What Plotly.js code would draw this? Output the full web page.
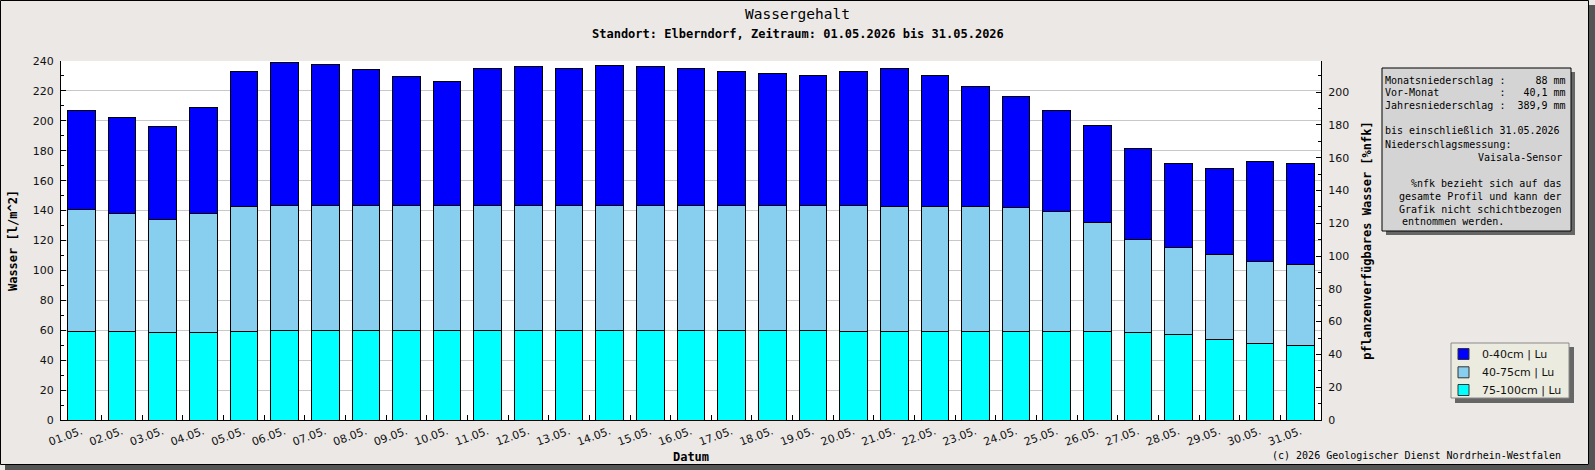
<!DOCTYPE html>
<html>
<head>
<meta charset="utf-8">
<script src="https://cdn.plot.ly/plotly-3.0.1.min.js"></script>
<style>html,body{margin:0;padding:0;background:#ebe8e6}</style>
</head>
<body>
<div id="wasserPlot" style="width:1595px;height:470px"></div>
<script>
// days of May 2026
var days = ['01.05.', '02.05.', '03.05.', '04.05.', '05.05.', '06.05.', '07.05.', '08.05.',
  '09.05.', '10.05.', '11.05.', '12.05.', '13.05.', '14.05.', '15.05.', '16.05.', '17.05.',
  '18.05.', '19.05.', '20.05.', '21.05.', '22.05.', '23.05.', '24.05.', '25.05.', '26.05.',
  '27.05.', '28.05.', '29.05.', '30.05.', '31.05.'];

// water per layer in l/m^2
var water75to100 = [59.2, 59.2, 58.6, 58.6, 59.2, 59.9, 59.9, 59.9, 59.9, 59.9, 59.9, 59.9,
  59.9, 59.9, 59.9, 59.9, 59.9, 59.9, 59.9, 59.3, 59.3, 59.3, 59.3, 59.3, 59.3, 59.3, 58.6,
  57.2, 53.9, 51.2, 49.9];
var water40to75 = [81.3, 78.6, 75.2, 79.2, 83.3, 83.3, 83.3, 83.5, 83.5, 83.5, 83.5, 83.5,
  83.5, 83.5, 83.5, 83.5, 83.5, 83.5, 83.5, 84.1, 83.5, 83.5, 83.5, 82.8, 80.0, 72.8, 62.1,
  58.2, 56.8, 54.8, 54.0];
var water0to40 = [66.4, 64.4, 62.4, 71.1, 90.4, 95.7, 94.4, 90.9, 86.2, 82.8, 91.5, 92.9,
  91.5, 93.5, 92.9, 91.5, 89.5, 88.2, 86.9, 89.5, 92.1, 87.5, 80.1, 74.1, 67.6, 64.8, 60.8,
  56.1, 57.4, 66.8, 67.6];

var layerNames = ['75-100cm | Lu', '40-75cm | Lu', '0-40cm | Lu'];
var layerColors = ['#00ffff', '#88ceee', '#0000ff'];

var infoLines = [
  'Monatsniederschlag :     88 mm',
  'Vor-Monat          :   40,1 mm',
  'Jahresniederschlag :  389,9 mm',
  'bis einschließlich 31.05.2026',
  'Niederschlagsmessung:'
];
var infoRight = ['Vaisala-Sensor', '%nfk bezieht sich auf das', 'gesamte Profil und kann der',
  'Grafik nicht schichtbezogen'];

// pixel -> paper helpers (plot area 61..1321 x 61..420)
function px(x) { return (x - 61) / 1260; }
function py(y) { return (420 - y) / 359; }
function nb(s) { return s.replace(/ /g, '\u00a0'); }

var layerValues = [water75to100, water40to75, water0to40];
var data = [];
for (var i = 0; i < 3; i++) {
  data.push({
    type: 'bar',
    x: days,
    y: layerValues[i],
    name: layerNames[i],
    marker: {color: layerColors[i], line: {color: '#000', width: 1}},
    hoverinfo: 'x+y+name'
  });
}
// empty trace so the right axis gets drawn
data.push({type: 'scatter', x: [], y: [], yaxis: 'y2', showlegend: false, hoverinfo: 'skip'});

var tickFont = {family: 'DejaVu Sans', size: 11, color: '#111'};
var titleFont = {family: 'DejaVu Sans Mono', size: 12, color: '#000', weight: 'bold'};
var mono = {family: 'DejaVu Sans Mono', size: 10, color: '#000'};

var annotations = [{
  xref: 'paper', yref: 'paper', x: px(798), y: py(34), xanchor: 'center', yanchor: 'middle',
  text: 'Standort: Elberndorf, Zeitraum: 01.05.2026 bis 31.05.2026', showarrow: false,
  font: titleFont
}, {
  xref: 'paper', yref: 'paper', x: px(1563), y: py(455), xanchor: 'right', yanchor: 'middle',
  text: '(c) 2026 Geologischer Dienst Nordrhein-Westfalen', showarrow: false, font: mono
}];
var leftY = [80, 92.7, 105, 130.7, 144];
for (var j = 0; j < infoLines.length; j++) {
  annotations.push({xref: 'paper', yref: 'paper', x: px(1383), y: py(leftY[j]), xanchor: 'left',
    yanchor: 'middle', text: nb(infoLines[j]), showarrow: false, font: mono});
}
var rightY = [157.3, 183.3, 196.7, 209.3];
for (var k = 0; k < infoRight.length; k++) {
  annotations.push({xref: 'paper', yref: 'paper', x: px(1564), y: py(rightY[k]), xanchor: 'right',
    yanchor: 'middle', text: infoRight[k], showarrow: false, font: mono});
}
annotations.push({xref: 'paper', yref: 'paper', x: px(1400), y: py(221.7), xanchor: 'left',
  yanchor: 'middle', text: 'entnommen werden.', showarrow: false, font: mono});

function rect(x0, y0, x1, y1, fill, line) {
  return {type: 'rect', xref: 'paper', yref: 'paper', x0: px(x0), x1: px(x1), y0: py(y0), y1: py(y1),
    fillcolor: fill, line: line ? {color: line, width: 1} : {width: 0}, layer: 'below'};
}
var shapes = [
  rect(1589, 5, 1595, 470, '#555', null),
  rect(5, 465, 1595, 470, '#555', null),
  rect(0.5, 0.5, 1588.5, 464.5, 'rgba(0,0,0,0)', '#000'),
  rect(1386, 72, 1575, 235, '#666', null),
  rect(1382, 68, 1571, 231, '#d4d4d4', '#000'),
  // legend box
  rect(1455, 347, 1574, 403, '#666', null),
  rect(1451, 343, 1569, 398, '#ecebdf', '#8a8a8a')
];

// legend entries, top entry is the upper layer
var legendRows = [354, 372.3, 390];
for (var n = 0; n < 3; n++) {
  var li = 2 - n;
  shapes.push(rect(1458, legendRows[n] - 5.5, 1469, legendRows[n] + 5.5, layerColors[li], '#333'));
  annotations.push({xref: 'paper', yref: 'paper', x: px(1480), y: py(legendRows[n]), xanchor: 'left',
    yanchor: 'middle', text: layerNames[li], showarrow: false,
    font: {family: 'DejaVu Sans', size: 11, color: '#111'}});
}

var layout = {
  width: 1595,
  height: 470,
  margin: {l: 61, r: 274, t: 61, b: 50},
  paper_bgcolor: '#ebe8e6',
  plot_bgcolor: '#fff',
  barmode: 'stack',
  bargap: 0.32,
  showlegend: false,
  title: {text: 'Wassergehalt', font: {family: 'DejaVu Sans Mono', size: 14.5, color: '#000'},
    xref: 'container', x: 0.5, xanchor: 'center', yref: 'container', y: 1 - 14 / 470, yanchor: 'middle'},
  xaxis: {
    type: 'category', tickson: 'boundaries', ticks: 'inside', ticklen: 5, tickcolor: '#000',
    showline: true, linecolor: '#000', linewidth: 1, showgrid: false, zeroline: false,
    tickangle: -20, tickfont: tickFont,
    title: {text: 'Datum', font: titleFont, standoff: 4}
  },
  yaxis: {
    range: [0, 240], dtick: 20, ticks: 'inside', ticklen: 5, tickcolor: '#000',
    showline: true, linecolor: '#000', linewidth: 1, gridcolor: '#c8c8c8', zeroline: false,
    minor: {dtick: 10, ticks: 'inside', ticklen: 3, tickcolor: '#000', showgrid: false},
    tickfont: tickFont, ticklabelstandoff: 4,
    title: {text: 'Wasser [l/m^2]', font: titleFont, standoff: 12}
  },
  yaxis2: {
    overlaying: 'y', side: 'right', anchor: 'x', range: [0, 219], dtick: 20,
    ticks: 'inside', ticklen: 5, tickcolor: '#000',
    showline: true, linecolor: '#000', linewidth: 1, showgrid: false, zeroline: false,
    minor: {dtick: 10, ticks: 'inside', ticklen: 3, tickcolor: '#000', showgrid: false},
    tickfont: tickFont, ticklabelstandoff: 4,
    title: {text: 'pflanzenverfügbares Wasser [%nfk]', font: titleFont, standoff: 14}
  },
  annotations: annotations,
  shapes: shapes
};

Plotly.newPlot('wasserPlot', data, layout, {staticPlot: true});
</script>
</body>
</html>
